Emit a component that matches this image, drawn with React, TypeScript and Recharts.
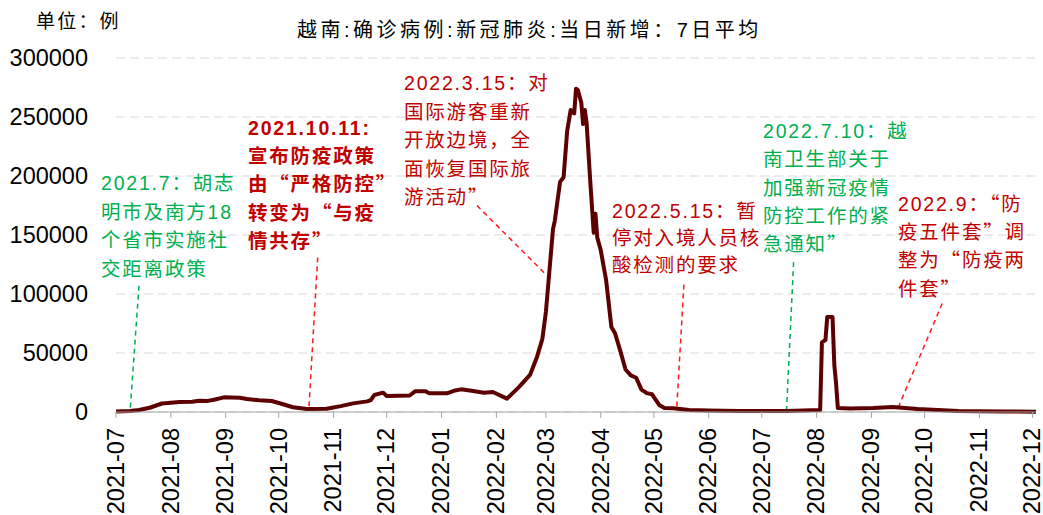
import React from "react";
import {
  LineChart,
  Line,
  XAxis,
  YAxis,
  CartesianGrid,
  ReferenceLine,
  Customized,
} from "recharts";

// 越南新冠确诊：当日新增，7日平均
const dates = [
  "2021-07-01", "2021-07-09", "2021-07-14", "2021-07-20", "2021-07-27",
  "2021-08-01", "2021-08-06", "2021-08-13", "2021-08-17", "2021-08-22",
  "2021-08-26", "2021-08-31", "2021-09-09", "2021-09-13", "2021-09-20",
  "2021-09-27", "2021-10-03", "2021-10-09", "2021-10-17", "2021-10-28",
  "2021-11-05", "2021-11-12", "2021-11-20", "2021-11-22", "2021-11-24",
  "2021-11-29", "2021-12-01", "2021-12-14", "2021-12-17", "2021-12-23",
  "2021-12-25", "2022-01-04", "2022-01-08", "2022-01-12", "2022-01-18",
  "2022-01-25", "2022-01-30", "2022-02-07", "2022-02-14", "2022-02-20",
  "2022-02-24", "2022-02-27", "2022-03-01", "2022-03-03", "2022-03-05",
  "2022-03-06", "2022-03-09", "2022-03-11", "2022-03-13", "2022-03-15",
  "2022-03-16", "2022-03-17", "2022-03-18", "2022-03-19", "2022-03-21",
  "2022-03-22", "2022-03-23", "2022-03-24", "2022-03-26", "2022-03-28",
  "2022-03-29", "2022-03-30", "2022-04-01", "2022-04-04", "2022-04-07",
  "2022-04-09", "2022-04-12", "2022-04-15", "2022-04-18", "2022-04-21",
  "2022-04-24", "2022-04-27", "2022-04-30", "2022-05-04", "2022-05-07",
  "2022-05-12", "2022-05-21", "2022-06-01", "2022-06-18", "2022-07-01",
  "2022-07-15", "2022-08-03", "2022-08-04", "2022-08-06", "2022-08-07",
  "2022-08-10", "2022-08-11", "2022-08-12", "2022-08-13", "2022-08-20",
  "2022-09-02", "2022-09-13", "2022-09-27", "2022-10-20", "2022-11-01",
  "2022-11-15", "2022-12-03",
];

const cases = [
  400, 800, 1700, 3600, 7200,
  7800, 8500, 8700, 9600, 9400,
  10600, 12400, 12000, 11000, 10000,
  9300, 6800, 4000, 2500, 2800,
  5000, 7300, 9000, 10000, 14400,
  16400, 13600, 14000, 17500, 17500,
  15800, 15800, 18000, 19200, 18000,
  16400, 17000, 11300, 21500, 31400,
  46900, 62000, 85000, 120000, 155000,
  162000, 195000, 199000, 238000, 256000,
  254000, 253000, 274000, 273000, 262000,
  244000, 256000, 245000, 197000, 152000,
  168000, 148000, 137000, 112000, 72000,
  67000, 52000, 36000, 31000, 29000,
  19000, 16000, 15000, 6000, 3400,
  3200, 1700, 1200, 800, 800,
  900, 1700, 59000, 61000, 80500,
  80500, 40000, 24000, 3400, 3000,
  3400, 4200, 2500, 850, 600,
  400, 300,
];

const yTicks = [0, 50000, 100000, 150000, 200000, 250000, 300000];

const monthTicks = [
  "2021-07-01", "2021-08-01", "2021-09-01", "2021-10-01", "2021-11-01",
  "2021-12-01", "2022-01-01", "2022-02-01", "2022-03-01", "2022-04-01",
  "2022-05-01", "2022-06-01", "2022-07-01", "2022-08-01", "2022-09-01",
  "2022-10-01", "2022-11-01", "2022-12-01",
];

const rangeStart = "2021-07-01";
const rangeEnd = "2022-12-03";

// 政策节点注释
const noteLines = [
  ["2021.7：胡志", "明市及南方18", "个省市实施社", "交距离政策"],
  ["2021.10.11:", "宣布防疫政策", "由“严格防控”", "转变为“与疫", "情共存”"],
  ["2022.3.15：对", "国际游客重新", "开放边境，全", "面恢复国际旅", "游活动”"],
  ["2022.5.15：暂", "停对入境人员核", "酸检测的要求"],
  ["2022.7.10：越", "南卫生部关于", "加强新冠疫情", "防控工作的紧", "急通知”"],
  ["2022.9：“防", "疫五件套”调", "整为“防疫两", "件套”"],
];

// 引线：[文字端日期, 文字端数值, 曲线端日期, 曲线端数值]
const noteLeaders: [string, number, string, number][] = [
  ["2021-07-14", 107000, "2021-07-09", 1700],
  ["2021-10-23", 131000, "2021-10-18", 2500],
  ["2022-01-21", 175000, "2022-02-28", 118000],
  ["2022-05-18", 108000, "2022-05-14", 5000],
  ["2022-07-19", 127000, "2022-07-15", 1700],
  ["2022-10-11", 92000, "2022-09-16", 3400],
];

const GREEN = "#00b050";
const RED_TEXT = "#c00000";
const RED_LINE = "#ff1a1a";
const LATIN_FONT = "'Liberation Sans', Arial, sans-serif";
const CJK_FONT = "'Noto Sans CJK SC', sans-serif";

const noteStyle = [
  { x: 101, y: 190, step: 28.5, color: GREEN, bold: false, lineColor: GREEN },
  { x: 248, y: 135, step: 28.2, color: RED_TEXT, bold: true, lineColor: RED_LINE },
  { x: 404, y: 90, step: 28.5, color: RED_TEXT, bold: false, lineColor: RED_LINE },
  { x: 612, y: 218, step: 27.2, color: RED_TEXT, bold: false, lineColor: RED_LINE },
  { x: 763, y: 138, step: 28.3, color: GREEN, bold: false, lineColor: GREEN },
  { x: 898, y: 211, step: 28.2, color: RED_TEXT, bold: false, lineColor: RED_LINE },
];

const toTime = (s: string) => Date.parse(s + "T00:00:00Z");

const data = dates.map((d, i) => ({ t: toTime(d), v: cases[i] }));

// ASCII 用 Arial 系字体，中文用思源黑体（引号取全角字形）
function MixedText({ text }: { text: string }) {
  const parts = text.match(/[\x20-\x7e]+|[^\x20-\x7e]+/g) ?? [];
  return (
    <>
      {parts.map((p, i) => {
        const latin = /^[\x20-\x7e]/.test(p);
        return (
          <tspan
            key={i}
            fontFamily={latin ? LATIN_FONT : CJK_FONT}
            style={latin ? undefined : { fontFeatureSettings: '"fwid"' }}
          >
            {p}
          </tspan>
        );
      })}
    </>
  );
}

function MonthTick(props: any) {
  const { x, y, payload } = props;
  const d = new Date(payload.value);
  const label = `${d.getUTCFullYear()}-${String(d.getUTCMonth() + 1).padStart(2, "0")}`;
  return (
    <g transform={`translate(${x},${y})`}>
      <text
        transform="rotate(-90)"
        x={-8}
        dy="0.33em"
        textAnchor="end"
        fontSize={23.5}
        fontFamily={LATIN_FONT}
        fill="#000"
      >
        {label}
      </text>
    </g>
  );
}

function Notes() {
  return (
    <g>
      <text x={36} y={28} fontSize={19} letterSpacing={2.2} fill="#000">
        <MixedText text="单位：例" />
      </text>
      <text x={297} y={37} fontSize={20} letterSpacing={3.5} fill="#000">
        <MixedText text="越南:确诊病例:新冠肺炎:当日新增：7日平均" />
      </text>
      {noteLines.map((lines, i) => {
        const s = noteStyle[i];
        return (
          <text
            key={i}
            fontSize={19.5}
            letterSpacing={1.8}
            fill={s.color}
            fontWeight={s.bold ? 700 : 400}
          >
            {lines.map((line, j) => (
              <tspan key={j} x={s.x} y={s.y + j * s.step}>
                <MixedText text={line} />
              </tspan>
            ))}
          </text>
        );
      })}
    </g>
  );
}

export default function App() {
  return (
    <div style={{ width: 1043, height: 515, background: "#fff" }}>
      <style>{"body{margin:0}"}</style>
      <LineChart
        width={1043}
        height={515}
        data={data}
        margin={{ top: 58, right: 7, bottom: 0, left: 0 }}
      >
        <CartesianGrid vertical={false} stroke="#d9d9d9" strokeDasharray="9 5" />
        <XAxis
          type="number"
          dataKey="t"
          domain={[toTime(rangeStart), toTime(rangeEnd)]}
          ticks={monthTicks.map(toTime)}
          interval={0}
          height={103}
          stroke="#a6a6a6"
          tickSize={6}
          tickMargin={2}
          tick={<MonthTick />}
        />
        <YAxis
          domain={[0, 300000]}
          ticks={yTicks}
          width={116}
          axisLine={false}
          tickLine={false}
          tickSize={0}
          tickMargin={28}
          tick={{ fontSize: 23.5, fill: "#000", fontFamily: LATIN_FONT }}
        />
        {noteLeaders.map(([d1, v1, d2, v2], i) => (
          <ReferenceLine
            key={i}
            segment={[
              { x: toTime(d1), y: v1 },
              { x: toTime(d2), y: v2 },
            ]}
            stroke={noteStyle[i].lineColor}
            strokeWidth={1.5}
            strokeDasharray="5 4"
          />
        ))}
        <Line
          type="linear"
          dataKey="v"
          stroke="#5c0000"
          strokeWidth={4}
          strokeLinejoin="round"
          dot={false}
          isAnimationActive={false}
        />
        <Customized component={<Notes />} />
      </LineChart>
    </div>
  );
}
